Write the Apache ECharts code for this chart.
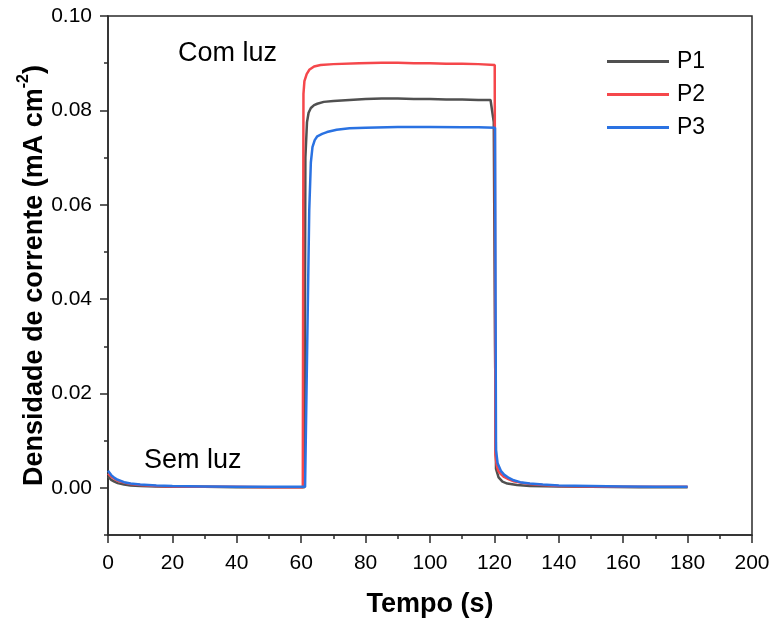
<!DOCTYPE html>
<html>
<head>
<meta charset="utf-8">
<script src="https://cdn.jsdelivr.net/npm/echarts@6/dist/echarts.min.js"></script>
<style>
html,body{margin:0;padding:0;background:#fff;}
#chart{width:772px;height:619px;}
</style>
</head>
<body>
<div id="chart"></div>
<script>
// ---- Data ----
const seriesNames = ['P1', 'P2', 'P3'];

const p1Time = [0, 1, 2, 3, 5, 7, 10, 15, 20, 30, 40, 50, 61.0, 61.3, 61.8, 62.3, 63, 64, 65, 67, 70, 75, 80, 85, 90, 95, 100, 105, 110, 115, 118.8, 119.8, 120.2, 120.5, 121.3, 122.5, 124, 127, 131, 140, 150, 165, 180];
const p1Value = [0.0024, 0.0017, 0.0013, 0.0010, 0.0007, 0.0005, 0.0004, 0.0003, 0.0002, 0.0002, 0.0001, 0.0001, 0.0001, 0.0700, 0.0775, 0.0795, 0.0805, 0.0811, 0.0814, 0.0818, 0.0820, 0.0822, 0.0824, 0.0825, 0.0825, 0.0824, 0.0824, 0.0823, 0.0823, 0.0822, 0.0822, 0.0775, 0.0300, 0.0040, 0.0022, 0.0013, 0.0009, 0.0006, 0.0004, 0.0003, 0.0002, 0.0001, 0.0001];

const p2Time = [0, 1, 2, 3, 5, 7, 10, 15, 20, 30, 40, 50, 60.5, 60.7, 61.0, 61.7, 62.5, 64, 66, 70, 78, 85, 90, 95, 100, 105, 110, 115, 120.1, 120.3, 120.7, 121.2, 122, 123, 124.5, 126, 128, 131, 135, 140, 150, 165, 180];
const p2Value = [0.0030, 0.0024, 0.0019, 0.0015, 0.0011, 0.0008, 0.0006, 0.0004, 0.0003, 0.0002, 0.0002, 0.0001, 0.0001, 0.0835, 0.0862, 0.0877, 0.0886, 0.0893, 0.0896, 0.0898, 0.0900, 0.0901, 0.0901, 0.0900, 0.0900, 0.0899, 0.0899, 0.0898, 0.0896, 0.0070, 0.0048, 0.0036, 0.0029, 0.0023, 0.0018, 0.0014, 0.0011, 0.0008, 0.0006, 0.0004, 0.0003, 0.0002, 0.0002];

const p3Time = [0, 1, 2, 3, 5, 7, 10, 15, 20, 30, 40, 50, 61.2, 62.5, 63.0, 63.5, 64.2, 65, 66.5, 68, 71, 75, 80, 90, 100, 110, 115, 120.2, 120.5, 121, 122, 123, 124.5, 126, 128, 131, 135, 140, 150, 160, 170, 180];
const p3Value = [0.0036, 0.0027, 0.0021, 0.0017, 0.0012, 0.0009, 0.0007, 0.0005, 0.0004, 0.0003, 0.0002, 0.0002, 0.0002, 0.0589, 0.0690, 0.0722, 0.0737, 0.0745, 0.0750, 0.0754, 0.0759, 0.0762, 0.0763, 0.0765, 0.0765, 0.0764, 0.0764, 0.0763, 0.0080, 0.0052, 0.0036, 0.0028, 0.0021, 0.0016, 0.0012, 0.0009, 0.0007, 0.0005, 0.0004, 0.0003, 0.0002, 0.0002];

const yMajorTicks = [0, 0.02, 0.04, 0.06, 0.08, 0.10];
const yMinorTicks = [-0.01, 0.01, 0.03, 0.05, 0.07, 0.09];

const xTitle = 'Tempo (s)';
const annotations = ['Com luz', 'Sem luz'];

// ---- Chart ----
const colors = ['#505050', '#f5474b', '#2a72e2'];
const FONT = 'Liberation Sans, Arial, sans-serif';
const AX = '#2a2a2a';

function pairs(t, v) { return t.map((x, i) => [x, v[i]]); }
const allSeries = [[p1Time, p1Value], [p2Time, p2Value], [p3Time, p3Value]];

const chart = echarts.init(document.getElementById('chart'), null, {renderer: 'canvas'});
chart.setOption({
  animation: false,
  backgroundColor: '#ffffff',
  textStyle: {fontFamily: FONT},
  grid: {left: 108, right: 20, top: 16, bottom: 84, containLabel: false, outerBoundsMode: 'none',
    show: true, borderColor: AX, borderWidth: 1.5, backgroundColor: 'transparent'},
  legend: {
    orient: 'vertical', left: 607, top: 50, padding: 0,
    itemWidth: 62, itemHeight: 3, itemGap: 10,
    icon: 'rect',
    textStyle: {fontSize: 23, color: '#000', fontFamily: FONT, lineHeight: 23, padding: [0, 0, 0, 3]},
    data: seriesNames
  },
  xAxis: {
    type: 'value', min: 0, max: 200, interval: 20,
    name: xTitle, nameLocation: 'middle', nameGap: 56, nameMoveOverlap: false,
    nameTextStyle: {fontSize: 27, fontWeight: 'bold', color: '#000', fontFamily: FONT},
    axisLine: {show: true, onZero: false, lineStyle: {color: AX, width: 1.5}},
    axisTick: {show: true, inside: false, length: 8, lineStyle: {color: AX, width: 1.5}},
    minorTick: {show: true, splitNumber: 2, length: 4, lineStyle: {color: AX, width: 1.5}},
    axisLabel: {fontSize: 21, color: '#000', margin: 18, fontFamily: FONT},
    splitLine: {show: false}
  },
  yAxis: [{
    type: 'value', min: -0.01, max: 0.10,
    name: '{b|Densidade de corrente (mA cm}{sup|-2}{b|)}',
    nameLocation: 'middle', nameRotate: 90, nameGap: 60, nameMoveOverlap: false,
    nameTextStyle: {
      color: '#000', fontFamily: FONT,
      rich: {
        b: {fontSize: 27, fontWeight: 'bold', color: '#000', fontFamily: FONT, lineHeight: 32, verticalAlign: 'bottom'},
        sup: {fontSize: 16, fontWeight: 'bold', color: '#000', fontFamily: FONT, lineHeight: 32, verticalAlign: 'top'}
      }
    },
    axisLine: {show: true, onZero: false, lineStyle: {color: AX, width: 1.5}},
    axisTick: {show: true, inside: false, length: 8, customValues: yMajorTicks, lineStyle: {color: AX, width: 1.5}},
    axisLabel: {fontSize: 21, color: '#000', margin: 16, fontFamily: FONT, customValues: yMajorTicks,
      formatter: v => v.toFixed(2)},
    splitLine: {show: false}
  }, {
    type: 'value', min: -0.01, max: 0.10, position: 'left',
    axisLine: {show: false, onZero: false},
    axisTick: {show: true, inside: false, length: 4, customValues: yMinorTicks, lineStyle: {color: AX, width: 1.5}},
    axisLabel: {show: false},
    splitLine: {show: false}
  }],
  graphic: [
    {type: 'text', left: 178, top: 40, style: {text: annotations[0], font: '27px ' + FONT, fill: '#000'}},
    {type: 'text', left: 144, top: 447, style: {text: annotations[1], font: '27px ' + FONT, fill: '#000'}}
  ],
  series: allSeries.map((s, i) => ({
    name: seriesNames[i],
    type: 'line',
    data: pairs(s[0], s[1]),
    showSymbol: false, symbol: 'none',
    smooth: false,
    lineStyle: {color: colors[i], width: 2.5},
    itemStyle: {color: colors[i]},
    z: 2 + i
  }))
});
</script>
</body>
</html>
